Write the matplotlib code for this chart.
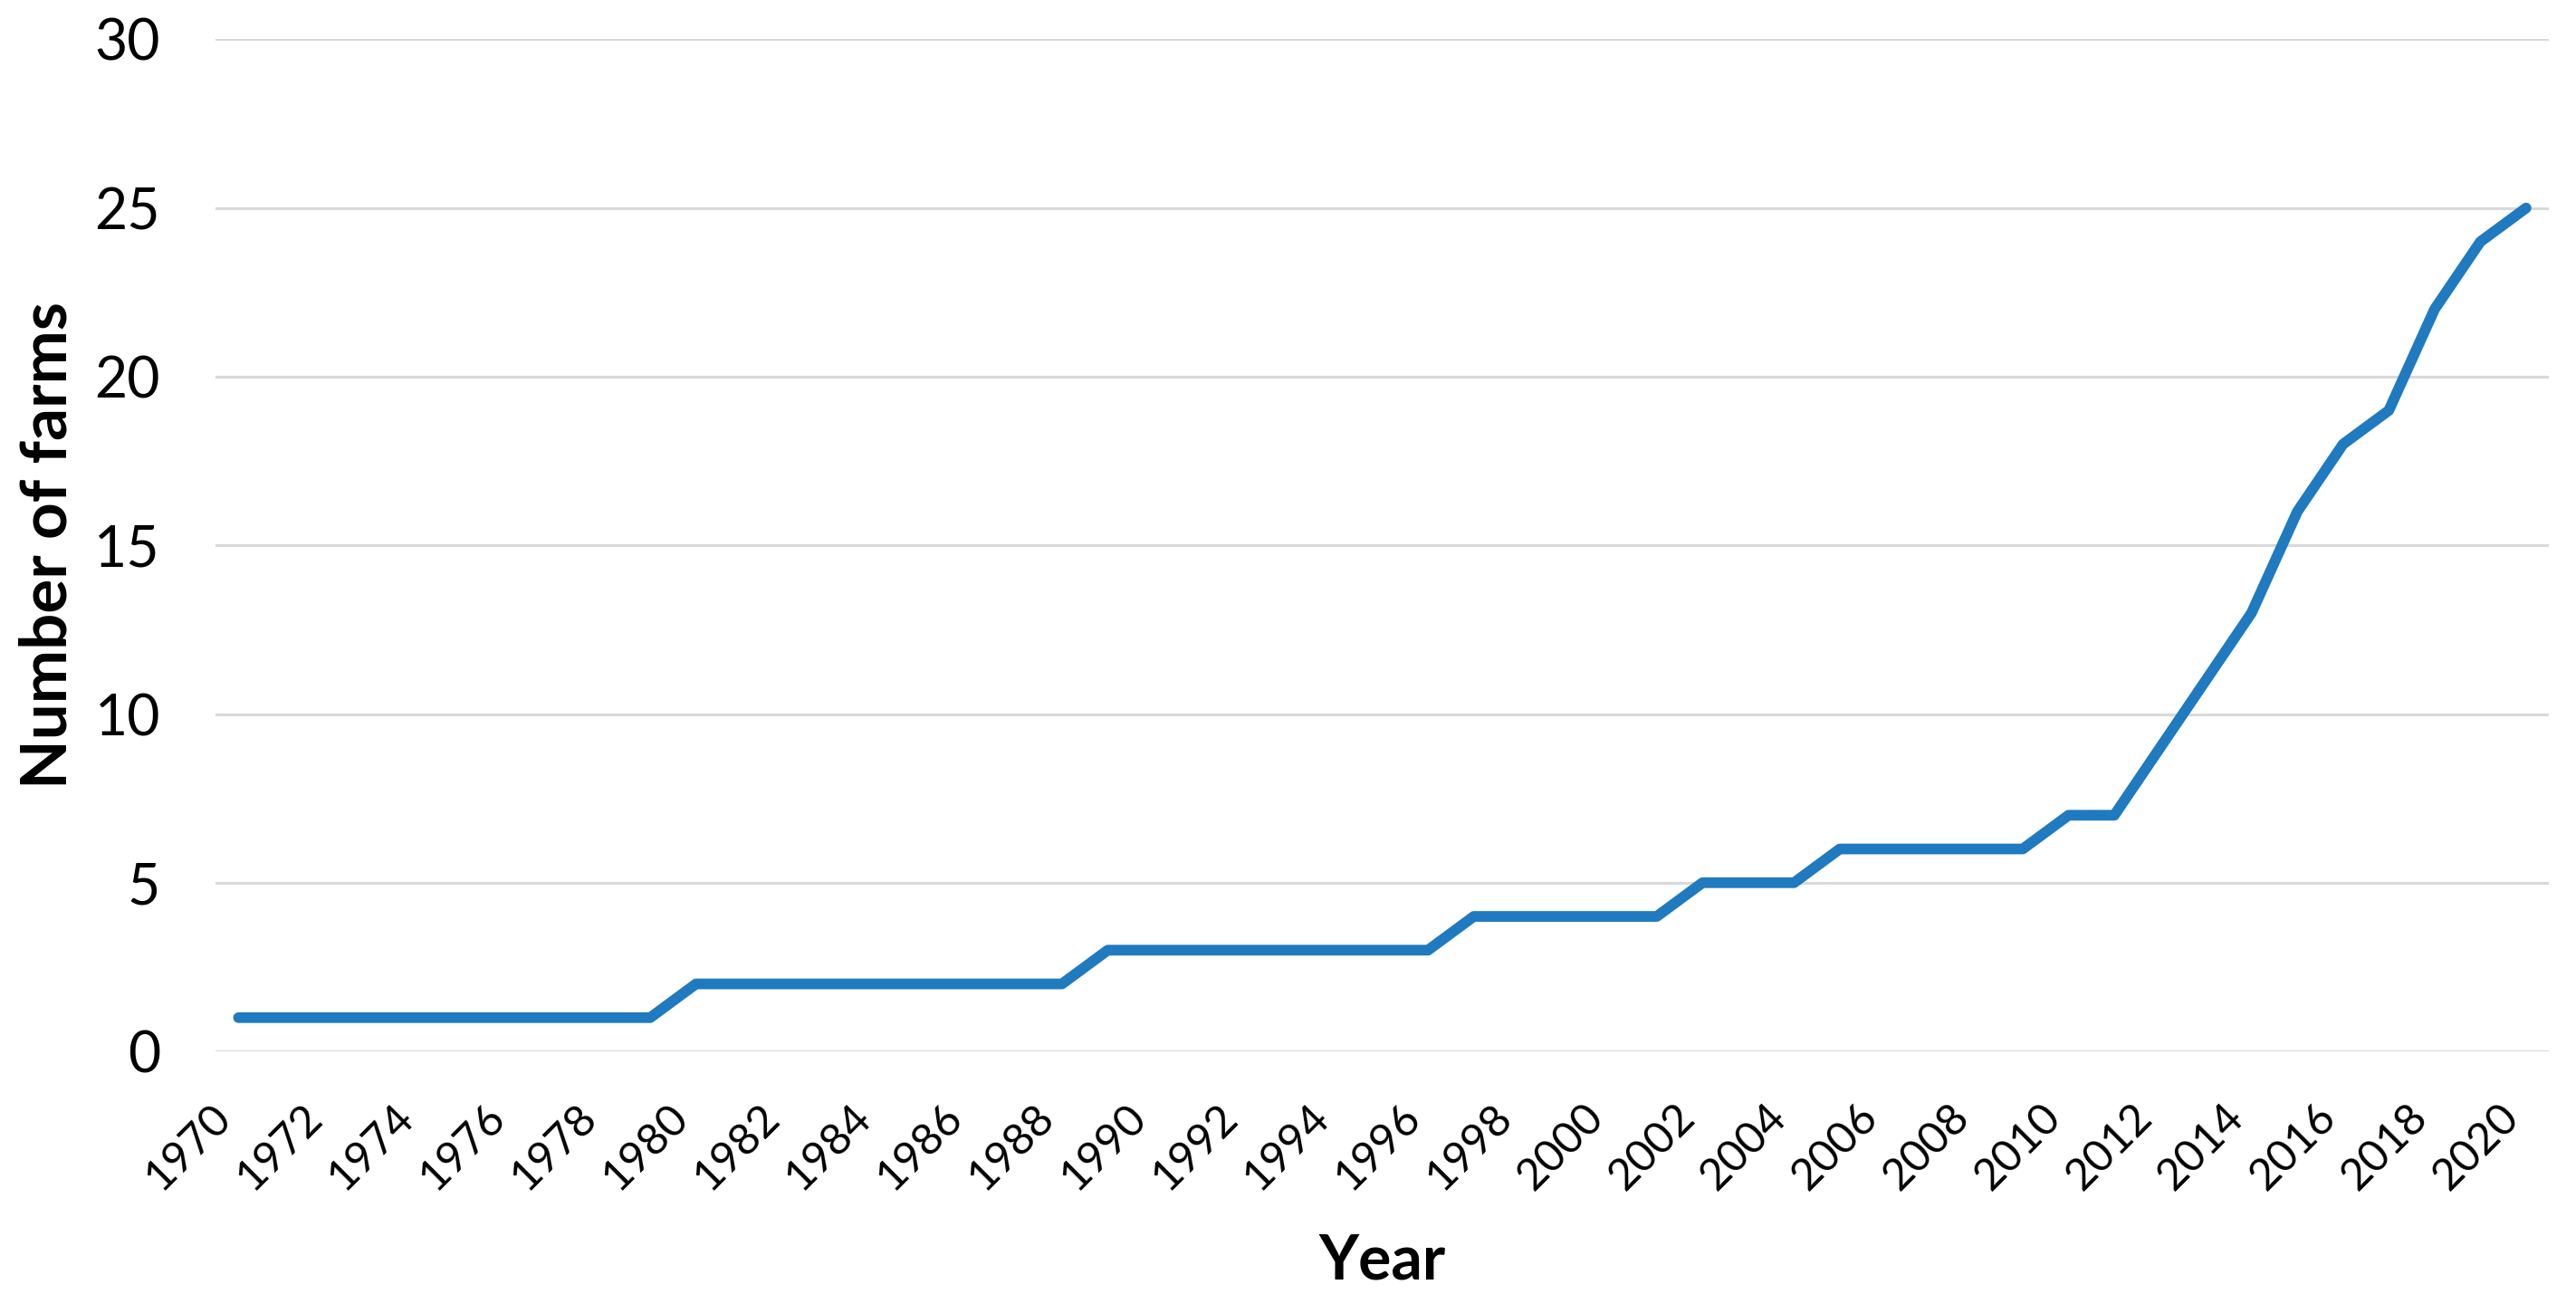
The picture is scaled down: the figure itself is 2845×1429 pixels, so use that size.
import matplotlib
matplotlib.use("Agg")
import matplotlib.pyplot as plt

years = list(range(1970, 2021))
farms = [1, 1, 1, 1, 1, 1, 1, 1, 1, 1,
         2, 2, 2, 2, 2, 2, 2, 2, 2,
         3, 3, 3, 3, 3, 3, 3, 3,
         4, 4, 4, 4, 4,
         5, 5, 5,
         6, 6, 6, 6, 6,
         7, 7,
         9, 11, 13, 16, 18, 19, 22, 24, 25]
xticks = list(range(1970, 2021, 2))
yticks = [0, 5, 10, 15, 20, 25, 30]

plt.rcParams['font.family'] = ['Lato', 'DejaVu Sans']

fig = plt.figure(figsize=(28.45, 14.29), dpi=100)
ax = fig.add_axes([0.0837, 0.1875, 0.9058, 0.7821])

ax.plot(years, farms, color='#1F7AC0', linewidth=8.5, solid_capstyle='round', zorder=3)

ax.set_xlim(1969.5, 2020.5)
ax.set_ylim(0, 30)
ax.set_yticks(yticks)
ax.set_xticks(xticks)
ax.set_xticklabels([str(y) for y in xticks], rotation=45, ha='right', va='top')
ax.tick_params(axis='y', length=0, pad=44, labelsize=45)
ax.tick_params(axis='x', length=0, pad=36, labelsize=35)

ax.grid(axis='y', color='#D9D9D9', linewidth=2.2)
ax.set_axisbelow(True)
for s in ax.spines.values():
    s.set_visible(False)

ax.set_xlabel('Year', fontsize=49, fontweight='bold')
ax.xaxis.label.set_va('baseline')
ax.xaxis.set_label_coords(0.5, -0.2246)
ax.set_ylabel('Number of farms', fontsize=51, fontweight='bold')
ax.yaxis.label.set_va('baseline')
ax.yaxis.set_label_coords(-0.064, 0.5)

plt.savefig('out.png', dpi=100)
